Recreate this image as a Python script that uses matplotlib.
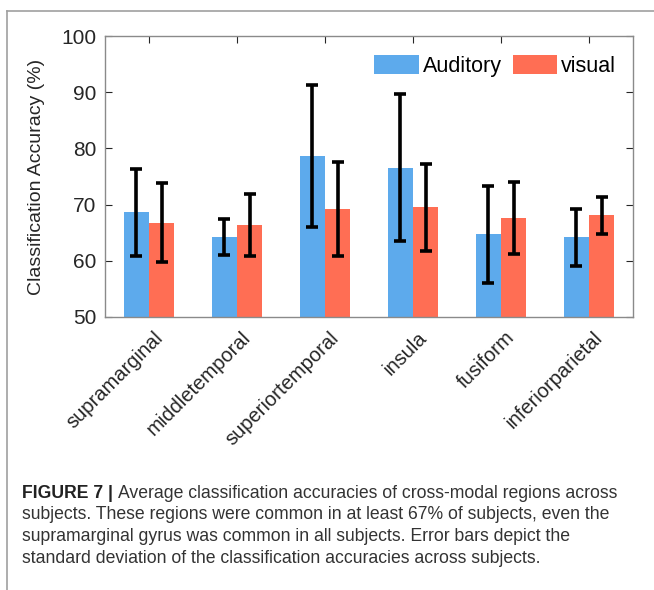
import numpy as np
import matplotlib
matplotlib.use('Agg')
import matplotlib.pyplot as plt
from matplotlib import rcParams
from matplotlib.lines import Line2D

rcParams['font.family'] = 'sans-serif'
rcParams['font.sans-serif'] = ['Liberation Sans', 'DejaVu Sans']

# data
regions = ['supramarginal', 'middletemporal', 'superiortemporal',
           'insula', 'fusiform', 'inferiorparietal']
auditory_mean = [68.6, 64.3, 78.6, 76.6, 64.7, 64.2]
auditory_sd = [7.8, 3.2, 12.6, 13.1, 8.6, 5.1]
visual_mean = [66.8, 66.3, 69.2, 69.5, 67.6, 68.1]
visual_sd = [7.0, 5.5, 8.3, 7.7, 6.4, 3.3]
yticks = [50, 60, 70, 80, 90, 100]

caption_lines = [
    'Average classification accuracies of cross-modal regions across',
    'subjects. These regions were common in at least 67% of subjects, even the',
    'supramarginal gyrus was common in all subjects. Error bars depict the',
    'standard deviation of the classification accuracies across subjects.',
]

blue = '#5DAAEC'
red = '#FF6E54'
tick_col = '#262626'
spine_col = '#8a8a8a'

fig = plt.figure(figsize=(6.54, 5.90), dpi=100)
ax = fig.add_axes([105/654, 1-317/590, 528/654, 281/590])

x = np.arange(1, len(regions)+1)
w = 0.285
ax.bar(x - w/2, auditory_mean, w, color=blue, label='Auditory', zorder=2)
ax.bar(x + w/2, visual_mean, w, color=red, label='visual', zorder=2)
ax.errorbar(x - w/2, auditory_mean, yerr=auditory_sd, fmt='none', ecolor='black',
            elinewidth=2.6, capsize=4.2, capthick=2.6, zorder=3)
ax.errorbar(x + w/2, visual_mean, yerr=visual_sd, fmt='none', ecolor='black',
            elinewidth=2.6, capsize=4.2, capthick=2.6, zorder=3)

ax.set_xlim(0.5, 6.5)
ax.set_ylim(50, 100)
ax.set_yticks(yticks)
ax.set_xticks(x)
ax.set_xticklabels(regions, rotation=45, ha='right', rotation_mode='anchor',
                   fontsize=14.5, color=tick_col)
ax.tick_params(axis='y', labelsize=15, colors=tick_col)
ax.tick_params(direction='in', length=5, width=0.8, top=True, right=True,
               color=tick_col)
ax.tick_params(axis='x', pad=8)
ax.tick_params(axis='y', pad=6)
for s in ax.spines.values():
    s.set_color(spine_col)
    s.set_linewidth(1.0)
# nudge rotated labels a little to the right, as in the original
from matplotlib.transforms import ScaledTranslation
for lab in ax.get_xticklabels():
    lab.set_transform(lab.get_transform() + ScaledTranslation(4/100, 0, fig.dpi_scale_trans))

ax.set_ylabel('Classification Accuracy (%)', fontsize=14, color=tick_col)
ax.yaxis.set_label_coords(-0.114, 0.5)

ax.legend(loc='upper right', bbox_to_anchor=(0.968, 0.932), ncol=2, frameon=False,
          fontsize=15.5, handlelength=2.05, handleheight=0.95, handletextpad=0.2,
          columnspacing=0.5, borderpad=0, borderaxespad=0)

# page frame lines (top and left)
fig.add_artist(Line2D([7/654, 1], [1-11/590, 1-11/590], color='#a0a0a0', lw=1.2))
fig.add_artist(Line2D([7/654, 7/654], [0, 1-11/590], color='#a0a0a0', lw=1.2))

# caption
cap_fs = 12.7
y0 = 493
bold = fig.text(22/654, 1-y0/590, 'FIGURE 7 |', fontsize=cap_fs, fontweight='bold',
                color='#222222', va='center', ha='left')
renderer = fig.canvas.get_renderer()
bb = bold.get_window_extent(renderer)
fig.text((bb.x1 + 5)/654, 1-y0/590, caption_lines[0], fontsize=cap_fs,
         color='#333333', va='center', ha='left')
for i, line in enumerate(caption_lines[1:]):
    fig.text(22/654, 1-(y0+21.7*(i+1))/590, line, fontsize=cap_fs,
             color='#333333', va='center', ha='left')

fig.savefig('out.png', dpi=100)
